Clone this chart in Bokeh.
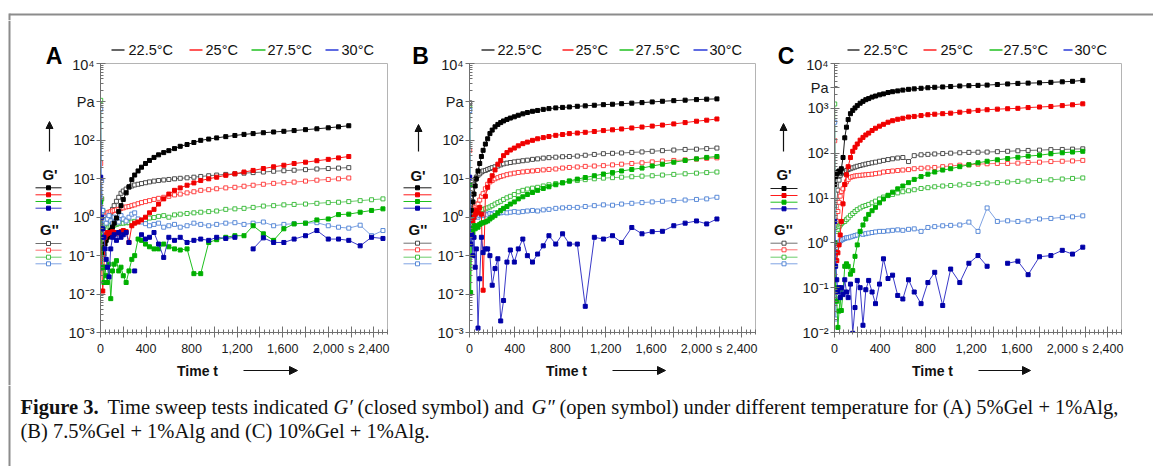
import numpy as np
from bokeh.plotting import figure
from bokeh.models import Range1d, FixedTicker, Arrow, NormalHead
from bokeh.layouts import row, column
from bokeh.embed import file_html
from bokeh.resources import INLINE
from bokeh.core.properties import value

nan = float("nan")

# ---------------- data ----------------
T = [2, 10, 20, 30, 40, 50, 60, 75, 90, 105,
     120, 140, 160, 180, 200, 225, 250, 275, 300, 330,
     360, 395, 430, 470, 510, 555, 600, 650, 700, 760,
     820, 880, 950, 1020, 1100, 1180, 1260, 1340, 1430, 1520,
     1610, 1700, 1800, 1900, 2000, 2090, 2180]
T_EXT = T + [2280, 2380, 2480]

TEMPS = ["22.5°C", "25°C", "27.5°C", "30°C"]

# Panel A  (5%Gel + 1%Alg)
A_GP_225 = [0.5, 0.3, 0.15, 0.11, 0.2, 0.25, 0.3, 0.35, 0.45, 0.55,
            0.7, 0.95, 1.4, 2.0, 2.9, 4.3, 6.2, 9.5, 12.5, 16,
            20, 25, 30, 36, 42, 48, 54, 61, 70, 78,
            88, 100, 108, 116, 125, 134, 143, 150, 158, 165,
            172, 180, 190, 200, 212, 225, 240]
A_GPP_225 = [0.08, 0.3, 0.5, 0.6, 0.7, 0.8, 0.9, 1.0, 1.3, 1.6,
             2.0, 2.6, 3.3, 4.2, 4.8, 5.4, 6.0, 6.5, 6.9, 7.2,
             7.5, 7.9, 8.3, 8.7, 9.0, 9.3, 9.6, 10, 10.3, 10.6,
             11, 11.5, 12, 12.5, 13, 13.5, 14, 14.5, 15, 15.7,
             16.2, 16.7, 17.3, 18, 18.5, 19, 19.5]
A_GP_25 = [0.3, 0.05, 0.012, 0.05, 0.3, 0.35, 0.4, 0.38, 0.4, 0.42,
           0.4, 0.38, 0.4, 0.42, 0.45, 0.42, 0.22, 0.6, 0.7, 0.75,
           0.85, 1.0, 1.3, 1.6, 2.2, 3.0, 4.0, 5.0, 5.8, 6.8,
           7.8, 9.0, 10, 11, 12.3, 13.5, 15, 16.5, 18.5, 20.5,
           22.5, 25, 27, 29.5, 32, 35, 38]
A_GPP_25 = [25, 3, 1.2, 1.0, 1.1, 1.2, 1.3, 1.35, 1.4, 1.45,
            1.5, 1.55, 1.6, 1.7, 1.75, 1.85, 1.9, 2.0, 2.1, 2.25,
            2.4, 2.55, 2.7, 2.9, 3.1, 3.3, 3.5, 3.8, 4.0, 4.3,
            4.6, 5.0, 5.2, 5.5, 5.8, 6.0, 6.4, 6.8, 7.2, 7.6,
            7.9, 8.2, 8.7, 9.2, 9.6, 10, 10.5]
A_GP_275 = [2.5, 0.3, 0.05, 0.02, 0.05, 0.03, 0.02, 0.06, 0.0076, 0.04,
            0.06, 0.074, 0.04, 0.05, 0.03, 0.02, 0.04, 0.08, 0.1, 0.27,
            0.25, 0.2, 0.17, 0.15, 0.15, 0.2, 0.17, 0.15, 0.14, 0.15,
            0.034, 0.034, 0.22, 0.26, 0.3, 0.33, 0.33, 0.6, 0.37, 0.25,
            0.5, 0.67, 0.7, 0.85, 0.9, 1.17, 1.2,
            1.35, 1.5, 1.65]
A_GPP_275 = [1100, 3, 1.5, 0.8, 0.6, 0.55, 0.5, 0.55, 0.6, 0.6,
             0.62, 0.65, 0.68, 0.7, 0.7, 0.72, 0.72, 0.75, 0.78, 0.8,
             0.82, 0.85, 0.95, 0.98, 1.05, 1.1, 1.0, 1.15, 1.2, 1.25,
             1.3, 1.35, 1.4, 1.45, 1.6, 1.65, 1.7, 1.8, 1.95, 2.0,
             2.1, 2.15, 2.2, 2.3, 2.4, 2.45, 2.55,
             2.7, 2.85, 3.0]
A_GP_30 = [11, 1.0, 0.5, 0.3, 0.15, 0.08, 0.05, 0.028, 0.15, 0.3,
           0.35, 0.25, 0.4, 0.3, 0.35, 0.4, 0.22, nan, 0.04, nan,
           0.35, 0.27, 0.3, 0.4, 0.2, 0.09, 0.3, 0.25, 0.3, 0.22,
           0.25, 0.27, 0.25, 0.3, 0.28, 0.3, nan, 0.15, 0.29, 0.22,
           0.22, 0.27, 0.33, 0.45, 0.27, 0.27, 0.25,
           0.18, 0.3, 0.28]
A_GPP_30 = [650, 9, 1.5, 1.0, 0.8, 0.7, 0.9, 1.1, 0.8, 0.7,
            1.0, 0.85, 0.75, 1.1, 0.9, 0.8, 1.0, 1.2, 1.3, 0.9,
            0.75, 0.68, 0.6, 0.65, 0.7, 0.55, 0.6, 0.65, 0.55, 0.6,
            0.7, 0.65, 0.6, 0.65, 0.7, 0.72, 0.65, 0.7, 0.75, 0.6,
            0.65, 0.68, 0.7, 0.72, 0.6, 0.55, 0.52,
            0.62, 0.33, 0.45]

# Panel B  (7.5%Gel + 1%Alg)
B_GP_225 = [0.5, 1.0, 1.5, 2.5, 4, 6.5, 10, 16, 25, 38,
            55, 80, 110, 150, 185, 225, 260, 290, 320, 350,
            380, 410, 450, 490, 530, 570, 600, 640, 670, 700,
            720, 740, 770, 790, 820, 850, 870, 900, 930, 960,
            1000, 1040, 1080, 1110, 1150, 1180, 1200]
B_GPP_225 = [950, 1.5, 2.2, 4, 7, 9.5, 11, 12.3, 13.5, 15,
             16, 16.5, 17.5, 18.5, 19.5, 20.5, 21.5, 23, 24.5, 25.5,
             26.5, 27.5, 28.5, 29.5, 30.5, 32, 33, 34.5, 35.5, 36.5,
             37.5, 38, 39, 41, 43, 45, 46, 47, 48.5, 50,
             52, 54, 56, 58, 59, 61, 63]
B_GP_25 = [0.5, 0.35, 0.5, 0.8, 1.0, 1.2, 1.5, 1.3, 1.8, 1.2,
           0.0126, 3.5, 6, 9, 12, 17, 24, 30, 40, 48,
           56, 63, 72, 82, 90, 100, 110, 118, 126, 135,
           142, 150, 155, 162, 170, 180, 188, 198, 210, 222,
           235, 250, 268, 290, 315, 335, 360]
B_GPP_25 = [55, 1.5, 1.2, 1.4, 1.8, 2.0, 2.2, 2.2, 2.8, 3.5,
            4.1, 5.5, 7.2, 8.3, 9.0, 10, 10.7, 11.5, 12, 12.8,
            13.4, 14, 14.6, 15.1, 15.6, 16, 16.5, 17, 17.5, 18,
            19, 19.7, 20.3, 21, 21.5, 22, 23, 24, 25, 26,
            27.5, 29, 30, 31, 32.5, 34, 35]
B_GP_275 = [7, 0.011, 0.5, 0.4, 0.6, 0.5, 0.6, 0.55, 0.65, 0.7,
            0.72, 0.75, 0.8, 0.9, 1.0, 1.1, 1.3, 1.5, 1.7, 1.9,
            2.2, 2.5, 3.0, 3.4, 3.9, 4.4, 5.0, 5.6, 6.2, 7.0,
            7.8, 8.8, 9.8, 10.8, 12, 13.3, 14.5, 16, 17.5, 19,
            21.5, 24, 27, 30, 33, 36, 38]
B_GPP_275 = [700, 1.5, 1.2, 1.25, 1.3, 1.35, 1.4, 1.45, 1.5, 1.55,
             1.6, 1.65, 1.75, 1.85, 2.0, 2.2, 2.4, 2.6, 2.9, 3.2,
             3.5, 3.9, 4.6, 5.0, 5.4, 5.7, 6.0, 6.5, 7.0, 7.5,
             8.0, 8.6, 9.0, 9.5, 10, 10.4, 10.7, 11, 11.3, 11.7,
             12, 12.5, 13, 13.5, 14, 14.5, 15]
B_GP_30 = [11, 0.2, 0.35, 0.1, 0.3, 0.05, 0.15, 0.0013, 0.025, 0.3,
           0.12, 0.15, 0.15, 0.1, 0.017, 0.046, 0.083, 0.002, 0.0068, 0.068,
           0.14, 0.068, 0.15, 0.27, 0.1, 0.068, 0.11, 0.18, 0.33, 0.2,
           0.37, 0.2, 0.2, 0.0048, 0.3, 0.27, 0.33, 0.22, 0.54, 0.37,
           0.42, 0.43, 0.6, 0.7, 0.8, 0.67, 0.9]
B_GPP_30 = [600, 1.0, 0.9, 1.0, 1.0, 1.05, 1.1, 1.0, 1.1, 1.15,
            1.1, 1.2, 1.15, 1.25, 1.2, 1.3, 1.25, 1.3, 1.35, 1.3,
            1.35, 1.4, 1.35, 1.4, 1.45, 1.5, 1.45, 1.55, 1.6, 1.7,
            1.75, 1.8, 1.8, 1.9, 2.0, 2.1, 2.05, 2.2, 2.3, 2.4,
            2.5, 2.6, 2.7, 2.8, 2.9, 3.0, 3.3]

# Panel C  (10%Gel + 1%Alg)
C_GP_225 = [20, 30, 35, 38, 40, 38, 45, 80, 220, 380,
            560, 760, 900, 1020, 1150, 1300, 1430, 1560, 1650, 1780,
            1880, 2000, 2100, 2250, 2350, 2450, 2550, 2650, 2720, 2800,
            2880, 2950, 3000, 3070, 3150, 3200, 3250, 3300, 3400, 3500,
            3600, 3650, 3700, 3800, 3900, 4000, 4200]
C_GPP_225 = [2.0, 3.2, 8, 15, 25, 32, 35, 37, 39, 41,
             43, 45, 47, 49, 51, 53, 55, 57, 59, 61,
             63, 66, 69, 72, 75, 78, 80, 65, 88, 92,
             94, 96, 98, 100, 102, 104, 105, 106, 108, 110,
             113, 115, 117, 120, 121, 123, 125]
C_GP_25 = [1.0, 0.6, 0.4, 0.6, 0.9, 1.5, 3, 7.4, 20, 33,
           50, 80, 110, 135, 160, 195, 225, 255, 280, 320,
           360, 400, 440, 490, 530, 570, 600, 640, 660, 690,
           720, 740, 760, 780, 820, 860, 900, 930, 960, 980,
           1000, 1040, 1070, 1100, 1150, 1200, 1260]
C_GPP_25 = [190, 2, 3, 5, 8, 11, 14, 16, 20, 23,
            26, 29, 30, 31, 31.5, 32, 32.5, 33, 33.5, 34,
            35, 36, 38, 39, 40, 41, 42, 43, 45, 46,
            47, 48, 50, 52, 54, 55, 57, 58, 59, 59,
            60, 62, 63, 65, 66, 67, 69]
C_GP_275 = [1.0, 0.1, 0.05, 0.013, 0.03, 0.06, 0.031, 0.08, 0.3, 0.34,
            0.3, 0.2, 0.24, 0.5, 0.9, 1.8, 2.5, 3.4, 4.3, 5.2,
            6.2, 7.8, 9.5, 11.5, 13.5, 16, 18.5, 22, 26, 30,
            34, 38, 42, 45, 50, 55, 61, 66, 71, 76,
            81, 86, 90, 97, 102, 106, 110]
C_GPP_275 = [1250, 2.0, 1.8, 2.0, 2.3, 2.5, 2.7, 2.9, 3.0, 3.3,
             3.6, 4.1, 4.5, 5.0, 5.5, 6.0, 6.5, 6.8, 7.2, 7.8,
             8.5, 9.5, 10.5, 11.3, 12, 13, 13.8, 14.5, 15.3, 16.3,
             17, 17.8, 18.5, 19, 19.6, 20.2, 21, 21.5, 22, 22.7,
             23.5, 24, 24.7, 25.5, 26.5, 27.3, 28]
C_GP_30 = [3.0, 0.3, 0.15, 0.08, 0.1, 0.06, 0.1, 0.07, 0.15, 0.08,
           0.06, 0.12, 0.0096, 0.036, 0.145, 0.1, 0.0145, 0.09, 0.145, 0.08,
           0.044, 0.12, 0.44, 0.16, 0.19, 0.067, 0.056, 0.15, 0.08, 0.044,
           0.13, 0.22, 0.04, 0.26, 0.13, 0.35, 0.52, 0.3, nan, 0.35,
           0.39, 0.195, 0.49, 0.52, 0.68, 0.56, 0.8]
C_GPP_30 = [490, 0.02, 0.8, 1.0, 1.0, 1.1, 1.15, 1.2, 1.25, 1.3,
            1.3, 1.35, 1.4, 1.45, 1.5, 1.6, 1.55, 1.6, 1.65, 1.7,
            1.75, 1.8, 1.8, 1.85, 1.9, 1.95, 1.9, 2.0, 2.05, 1.8,
            2.2, 2.3, 2.4, 2.45, 2.5, 2.9, 1.8, 6.0, 3.0, 3.1,
            3.0, 3.1, 3.4, 3.5, 3.7, 3.8, 4.0]

X_TICKS = [0, 200, 400, 600, 800, 1000, 1200, 1400, 1600, 1800, 2000, 2200, 2400]
X_TICK_LABELS = ["0", "", "400", "", "800", "", "1,200", "", "1,600", "", "2,000", "s", "2,400"]
Y_TICKS_AB = [1e-3, 1e-2, 1e-1, 1.0, 10.0, 100.0, 1000.0, 10000.0]
Y_LABELS_AB = ["10⁻³", "10⁻²", "10⁻¹", "10⁰", "10¹", "10²", "Pa", "10⁴"]
Y_TICKS_C = [1e-2, 1e-1, 1.0, 10.0, 100.0, 1000.0, 2900.0, 10000.0]
Y_LABELS_C = ["10⁻²", "10⁻¹", "10⁰", "10¹", "10²", "10³", "Pa", "10⁴"]

CAPTION_1 = [("Figure 3.", "bold"), ("Time sweep tests indicated", "normal"), ("G′", "italic"),
             ("(closed symbol) and", "normal"), ("G″", "italic"),
             ("(open symbol) under different temperature for (A) 5%Gel + 1%Alg,", "normal")]
CAPTION_2 = "(B) 7.5%Gel + 1%Alg and (C) 10%Gel + 1%Alg."

# ---------------- styles ----------------
SANS = "Liberation Sans"
MK_GP = ["#000000", "#f00000", "#00b000", "#0000a8"]
LN_GP = ["#1a1a1a", "#ff1a1a", "#1ec01e", "#3a3ac8"]
MK_GPP = ["#3a3a3a", "#ff3030", "#30b830", "#4a7fd4"]
LN_GPP = ["#707070", "#ff7070", "#6ccc6c", "#7fa3e3"]
LEG_LN = ["#333333", "#ff2020", "#20c020", "#2a3ad8"]
FRAME_C = "#8c8c8c"

XMAX = 2520
STRIP = 20       # top strip holding the page border line
H = 385          # bottom of the panel row
TOP_H = 56       # bottom of the legend strip
BOT_Y = 360      # start of the "Time t" strip
FRAME_TOP, FRAME_H = 63, 269
LEG_Y = 49

CFG = {
    "A": dict(x0=0, split=62, x1=395, right=8, frame_left=100, ylo=1e-3, letter=(53.5, 55),
              leg_lines=[(111, 124), (189, 202), (251, 265), (325, 338)], leg_text=[128, 205, 267, 341],
              arrow_x=49, arrow_y=(151, 121), gp_lab=(49.5, 174), lines_x=(35, 61),
              gp_y=[187.3, 194.3, 201, 207.7], gpp_lab=(49, 229),
              gpp_y=[243, 249.7, 256.7, 263.3], time=(197, 370), tarrow=(243, 297)),
    "B": dict(x0=395, split=433, x1=760, right=5, frame_left=469, ylo=1e-3, letter=(420, 55),
              leg_lines=[(481, 494), (562, 573), (619, 633), (693, 707)], leg_text=[497, 575, 635, 709],
              arrow_x=418, arrow_y=(151, 124), gp_lab=(417.5, 175), lines_x=(403, 431),
              gp_y=[187.3, 194.3, 201, 207.7], gpp_lab=(417.5, 229),
              gpp_y=[242.7, 249.3, 256.7, 263.3], time=(566, 370), tarrow=(612, 665)),
    "C": dict(x0=760, split=798, x1=1153, right=32, frame_left=834, ylo=1e-2, letter=(785.5, 55),
              leg_lines=[(847, 859), (923, 936), (989, 1002), (1063, 1072)], leg_text=[863, 940, 1003, 1074],
              arrow_x=783, arrow_y=(151, 123), gp_lab=(783.5, 174), lines_x=(770, 797),
              gp_y=[188, 195, 201.7, 208.3], gpp_lab=(783, 229),
              gpp_y=[242.7, 249.3, 256.7, 263.3], time=(932, 370), tarrow=(978, 1030)),
}


def pixfig(x0, x1, y0, y1, bl=0, br=0):
    """A blank figure whose data coordinates are page pixels (frame = [x0+bl, x1-br])."""
    f = figure(width=x1 - x0, height=y1 - y0, x_range=Range1d(x0 + bl, x1 - br), y_range=Range1d(y1, y0),
               toolbar_location=None, output_backend="svg", x_axis_location=None,
               y_axis_location=None, min_border=0, min_border_left=bl, min_border_right=br)
    f.grid.visible = False
    f.outline_line_color = None
    return f


def txt(f, x, y, s, size, style="normal", align="center", color="#111111", font=SANS):
    f.text(x=[x], y=[y], text=[s], text_font=value(font), text_font_size=size,
           text_font_style=style, text_align=align, text_baseline="middle", text_color=color)


def arrow(f, x0, y0, x1, y1, size):
    f.add_layout(Arrow(x_start=x0, y_start=y0, x_end=x1, y_end=y1, start=None,
                       end=NormalHead(size=size, fill_color="#111111", line_color="#111111"),
                       line_color="#111111", line_width=1.2))


def build(key, gp, gpp, times, y_ticks, y_labels):
    c = CFG[key]
    x0, sp, x1 = c["x0"], c["split"], c["x1"]
    W = x1 - sp
    L = c["frame_left"] - sp
    R = c["right"]

    # ---- main plot ----
    p = figure(width=W, height=BOT_Y - TOP_H, x_range=Range1d(0, XMAX), y_range=Range1d(c["ylo"], 1e4),
               y_axis_type="log", toolbar_location=None, output_backend="svg",
               min_border_left=L, min_border_right=R, min_border_top=FRAME_TOP - TOP_H,
               min_border_bottom=BOT_Y - FRAME_TOP - FRAME_H)
    p.grid.visible = False
    p.outline_line_color = "#b4b4b4"
    xa = p.xaxis[0]
    xa.ticker = FixedTicker(ticks=X_TICKS, minor_ticks=list(range(0, XMAX + 1, 40)))
    xa.major_label_overrides = {t: l for t, l in zip(X_TICKS, X_TICK_LABELS)}
    ya = p.yaxis[0]
    decades = [t for t in y_ticks if abs(np.log10(t) - round(np.log10(t))) < 1e-9]
    ya.ticker = FixedTicker(ticks=y_ticks,
                            minor_ticks=[m * d for d in decades[:-1] for m in range(2, 10)])
    ya.major_label_overrides = {t: l for t, l in zip(y_ticks, y_labels)}
    for ax in (xa, ya):
        ax.axis_line_color = "#707070"
        ax.major_tick_line_color = "#707070"
        ax.minor_tick_line_color = "#707070"
        ax.major_label_text_font = SANS
        ax.major_label_text_color = "#1a1a1a"
    xa.major_tick_in, xa.major_tick_out = 6, 5
    xa.minor_tick_in, xa.minor_tick_out = 3, 2
    xa.major_label_standoff = 4
    xa.major_label_text_font_size = "12.5px"
    ya.major_tick_in, ya.major_tick_out = 5, 4
    ya.minor_tick_in, ya.minor_tick_out = 3, 0
    ya.major_label_standoff = 2
    ya.major_label_text_font_size = "14.5px"

    for i in range(4):
        yv = np.array(gpp[i], dtype=float)
        p.line(times[i], yv, line_color=LN_GPP[i], line_width=1)
        p.scatter(times[i], yv, marker="square", size=4, fill_color="white",
                  line_color=MK_GPP[i], line_width=0.9)
    for i in range(4):
        yv = np.array(gp[i], dtype=float)
        p.line(times[i], yv, line_color=LN_GP[i], line_width=1)
        p.scatter(times[i], yv, marker="square", size=4, fill_color=MK_GP[i], line_color=MK_GP[i])

    # ---- legend strip (same side borders as the plot so the frames line up) ----
    top = pixfig(sp, x1, STRIP, TOP_H, L, R)
    for i in range(4):
        a, b = c["leg_lines"][i]
        top.line(x=[a, b], y=[LEG_Y + 0.5, LEG_Y + 0.5], line_color=LEG_LN[i], line_width=1.5)
        txt(top, c["leg_text"][i], LEG_Y, TEMPS[i], "14.5px", align="left")

    # ---- axis-title strip ----
    bot = pixfig(sp, x1, BOT_Y, H, L, R)
    txt(bot, c["time"][0], c["time"][1], "Time t", "14px", "bold")
    ta, tb = c["tarrow"]
    arrow(bot, ta, c["time"][1], tb, c["time"][1], 8)

    # ---- left strip: letter, arrow, G'/G'' keys ----
    left = pixfig(x0, sp, STRIP, H)
    if x0 == 0:
        left.segment(x0=[9], y0=[STRIP], x1=[9], y1=[H], line_color=FRAME_C, line_width=2)
    txt(left, c["letter"][0], c["letter"][1], key, "23px", "bold", color="#000000")
    ay0, ay1 = c["arrow_y"]
    arrow(left, c["arrow_x"], ay0, c["arrow_x"], ay1, 7)
    la, lb = c["lines_x"]
    mx = (la + lb) / 2
    txt(left, c["gp_lab"][0], c["gp_lab"][1], "G'", "15px", "bold")
    for i, yy in enumerate(c["gp_y"]):
        left.segment(x0=[la], y0=[yy], x1=[lb], y1=[yy], line_color=LN_GP[i], line_width=1)
        left.scatter([mx], [yy], marker="square", size=4, fill_color=MK_GP[i], line_color=MK_GP[i])
    txt(left, c["gpp_lab"][0], c["gpp_lab"][1], "G''", "15px", "bold")
    for i, yy in enumerate(c["gpp_y"]):
        left.segment(x0=[la], y0=[yy], x1=[lb], y1=[yy], line_color=LN_GPP[i], line_width=1)
        left.scatter([mx], [yy], marker="square", size=4, fill_color="white",
                     line_color=MK_GPP[i], line_width=0.9)

    return row(left, column(top, p, bot))


pA = build("A", [A_GP_225, A_GP_25, A_GP_275, A_GP_30], [A_GPP_225, A_GPP_25, A_GPP_275, A_GPP_30],
           [T, T, T_EXT, T_EXT], Y_TICKS_AB, Y_LABELS_AB)
pB = build("B", [B_GP_225, B_GP_25, B_GP_275, B_GP_30], [B_GPP_225, B_GPP_25, B_GPP_275, B_GPP_30],
           [T, T, T, T], Y_TICKS_AB, Y_LABELS_AB)
pC = build("C", [C_GP_225, C_GP_25, C_GP_275, C_GP_30], [C_GPP_225, C_GPP_25, C_GPP_275, C_GPP_30],
           [T, T, T, T], Y_TICKS_C, Y_LABELS_C)

# ---------------- page border strip ----------------
strip = pixfig(0, 1153, 0, STRIP)
strip.segment(x0=[9], y0=[14], x1=[1153], y1=[14], line_color=FRAME_C, line_width=2)
strip.segment(x0=[9], y0=[13], x1=[9], y1=[STRIP], line_color=FRAME_C, line_width=2)

# ---------------- caption ----------------
cap = pixfig(0, 1153, H, 466)
cap.segment(x0=[9], y0=[H], x1=[9], y1=[466], line_color=FRAME_C, line_width=2)
CAP_X1 = [20, 107, 333, 357, 531, 559]
for (s, style), xx in zip(CAPTION_1, CAP_X1):
    txt(cap, xx, 406, s, "20.5px", style, align="left", font="Liberation Serif")
txt(cap, 20, 430, CAPTION_2, "20.5px", align="left", font="Liberation Serif")

layout = column(strip, row(pA, pB, pC), cap)
open("out.html", "w").write(file_html(layout, INLINE))
